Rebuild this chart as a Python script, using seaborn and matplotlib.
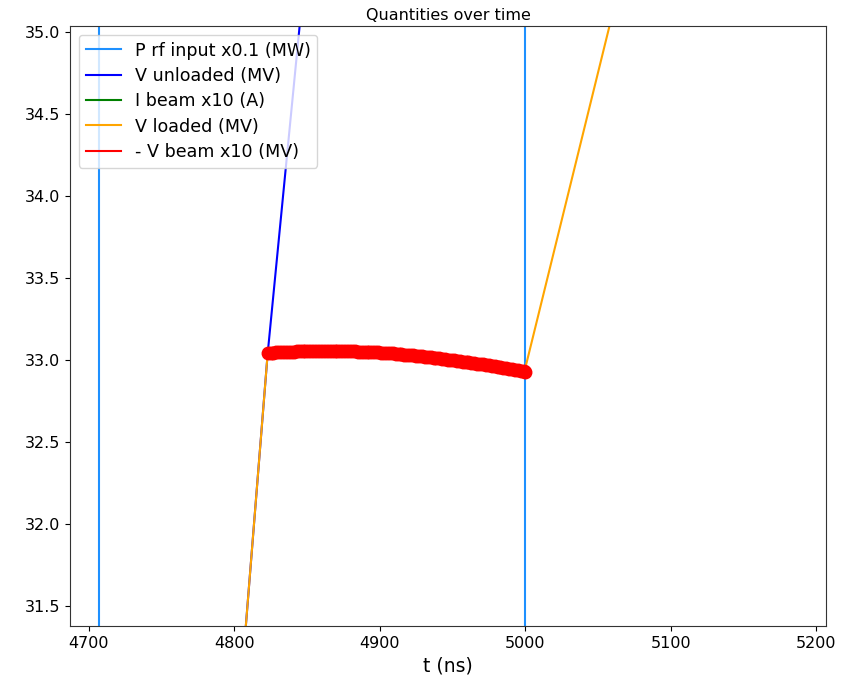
import numpy as np
import pandas as pd
import matplotlib
matplotlib.use("Agg")
import matplotlib.pyplot as plt
import seaborn as sns

# ---- data ----
t_prf = [4600, 4707, 4707, 5000, 5000, 5300]
p_rf = [0.0, 0.0, 60.0, 60.0, 0.0, 0.0]

t_vunl = [4780, 4808, 4823, 4845, 4880]
v_unl = [28.3, 31.38, 33.04, 35.04, 38.0]

t_ibeam = [4600, 4823, 4823, 5000, 5000, 5300]
i_beam = [0.0, 0.0, 5.0, 5.0, 0.0, 0.0]

t_vload = [4780, 4808, 4823, 4845, 4865, 4900, 4950, 5000, 5058, 5080]
v_load = [28.3, 31.38, 33.04, 33.055, 33.058, 33.05, 33.01, 32.95, 35.04, 35.8]

t_vbeam = [4823, 4825, 4827, 4829, 4831, 4833, 4835, 4837, 4839, 4841,
           4843, 4845, 4847, 4849, 4851, 4853, 4855, 4857, 4859, 4861,
           4863, 4865, 4867, 4869, 4871, 4873, 4875, 4877, 4879, 4881,
           4883, 4885, 4887, 4889, 4891, 4893, 4895, 4897, 4899, 4901,
           4903, 4905, 4907, 4909, 4911, 4913, 4915, 4917, 4919, 4921,
           4923, 4925, 4927, 4929, 4931, 4933, 4935, 4937, 4939, 4941,
           4943, 4945, 4947, 4949, 4951, 4953, 4955, 4957, 4959, 4961,
           4963, 4965, 4967, 4969, 4971, 4973, 4975, 4977, 4979, 4981,
           4983, 4985, 4987, 4989, 4991, 4993, 4995, 4997, 4999, 5000]
v_beam = [33.045, 33.046, 33.047, 33.049, 33.050, 33.051, 33.052, 33.053, 33.054, 33.054,
          33.055, 33.056, 33.056, 33.057, 33.057, 33.058, 33.058, 33.058, 33.058, 33.058,
          33.058, 33.058, 33.058, 33.058, 33.058, 33.057, 33.057, 33.057, 33.056, 33.056,
          33.055, 33.054, 33.054, 33.053, 33.052, 33.051, 33.050, 33.049, 33.048, 33.047,
          33.046, 33.044, 33.043, 33.042, 33.040, 33.039, 33.037, 33.035, 33.034, 33.032,
          33.030, 33.028, 33.026, 33.024, 33.022, 33.020, 33.018, 33.016, 33.014, 33.012,
          33.010, 33.007, 33.005, 33.003, 33.000, 32.998, 32.995, 32.993, 32.990, 32.988,
          32.985, 32.983, 32.980, 32.977, 32.975, 32.972, 32.969, 32.966, 32.964, 32.961,
          32.958, 32.955, 32.952, 32.949, 32.946, 32.943, 32.940, 32.937, 32.934, 32.932]

plt.rcParams['font.family'] = ['DejaVu Sans']

fig = plt.figure(figsize=(8.51, 6.79), dpi=100)
ax = fig.add_axes([0.082, 0.078, 0.889, 0.884])

kw = dict(estimator=None, sort=False, linewidth=1.5, ax=ax)
sns.lineplot(x=t_prf, y=p_rf, color="#1e90ff", label="P rf input x0.1 (MW)", **kw)
sns.lineplot(x=t_vunl, y=v_unl, color="blue", label="V unloaded (MV)", **kw)
sns.lineplot(x=t_ibeam, y=i_beam, color="green", label="I beam x10 (A)", **kw)
sns.lineplot(x=t_vload, y=v_load, color="orange", label="V loaded (MV)", **kw)
sns.lineplot(x=t_vbeam, y=v_beam, color="red", label="- V beam x10 (MV)", **kw)
ax.plot(t_vbeam, v_beam, linestyle="none", marker="o", markersize=9, color="red")

ax.set_xlim(4687, 5207)
ax.set_ylim(31.38, 35.04)
ax.set_xticks([4700, 4800, 4900, 5000, 5100, 5200])
ax.set_yticks([31.5, 32.0, 32.5, 33.0, 33.5, 34.0, 34.5, 35.0])
ax.tick_params(labelsize=11.5)
for s in ax.spines.values():
    s.set_edgecolor("#333333")
ax.set_xlabel("t (ns)", fontsize=13.5)
ax.set_ylabel("")
ax.set_title("Quantities over time", fontsize=11.5, pad=4)
ax.legend(loc="upper left", fontsize=12.6, labelspacing=0.42)

fig.savefig("out.png", dpi=100)
